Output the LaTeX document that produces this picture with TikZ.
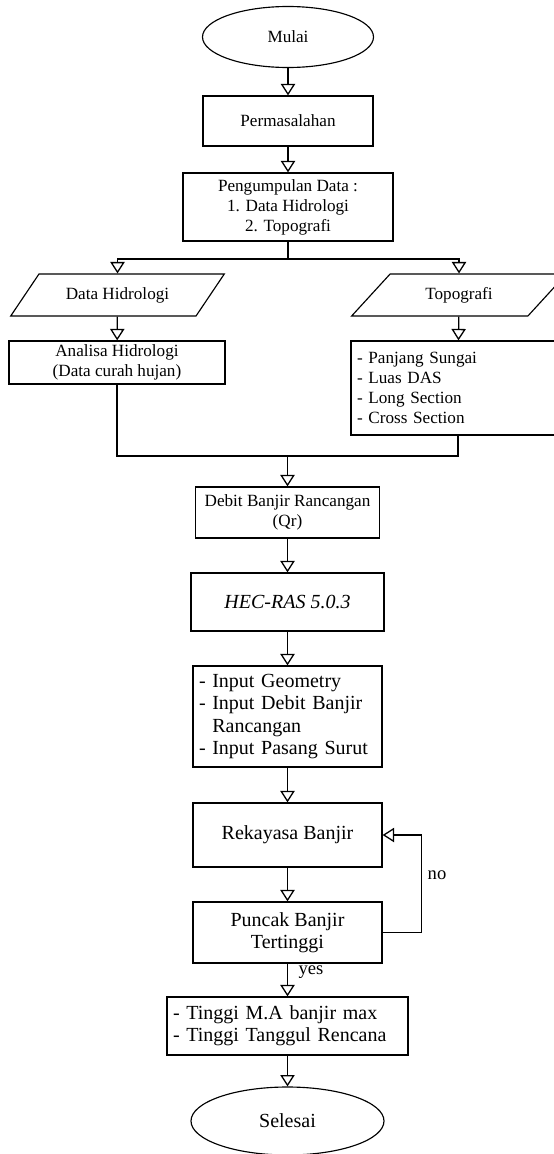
\documentclass[tikz,border=0pt]{standalone}
\usepackage{fontspec}
\setmainfont{Liberation Serif}
\usetikzlibrary{shapes.geometric,arrows.meta}

\begin{document}
\begin{tikzpicture}[x=0.7pt,y=-0.7pt]
	\tikzset{every node/.style={font=\fontsize{12}{14}\selectfont,inner sep=0pt}}
	\tikzset{sz/.style 2 args={minimum width=#1*0.7pt,minimum height=#2*0.7pt}}
	\tikzset{besar/.style={font=\fontsize{14}{15.5}\selectfont}}
	\tikzset{terminal/.style={draw,ellipse,line width=0.8pt}}
	\tikzset{proses/.style={draw,rectangle,line width=0.9pt,align=center}}
	\tikzset{daftar/.style={draw,rectangle,line width=0.9pt,align=left,inner xsep=4.2pt,text width=#1*0.7pt-8.4pt}}
	\tikzset{masukan/.style={draw,trapezium,trapezium left angle=40,trapezium right angle=140,trapezium stretches=true,line width=0.8pt}}
	\tikzset{panah/.style={line width=0.9pt,-{Triangle[open,width=10pt,length=8pt]}}}
	\tikzset{garis/.style={line width=0.9pt}}
	\clip (0,0) rectangle (554,1154);
	% alur utama
	\node[terminal,sz={171}{61}] (mulai) at (288,37) {Mulai};
	\node[proses,sz={170}{50}] (masalah) at (288,121) {Permasalahan};
	\node[proses,sz={210}{68}] (kumpul) at (288,207) {Pengumpulan Data :\\1. Data Hidrologi\\2. Topografi};
	% cabang kiri dan kanan
	\node[masukan,sz={215}{42}] (hidro) at (117.5,295) {Data Hidrologi};
	\node[masukan,sz={215}{42}] (topo) at (459,295) {Topografi};
	\node[proses,sz={216}{43}] (analisa) at (117,362.5) {Analisa Hidrologi\\(Data curah hujan)};
	\node[daftar=214,sz={214}{94}] (rincian) at (458,388) {- Panjang Sungai\\- Luas DAS\\- Long Section\\- Cross Section};
	\coordinate (cabang) at (288,259);
	\coordinate (gabung) at (287.5,456);
	% simulasi
	\node[proses,sz={184}{51}] (debit) at (287.5,512.5) {Debit Banjir Rancangan\\(Qr)};
	\node[proses,besar,sz={193}{58}] (hecras) at (287.5,602) {\itshape HEC-RAS 5.0.3};
	\node[daftar=189,besar,sz={189}{101}] (input) at (287.5,716.5) {- Input Geometry\\- Input Debit Banjir\\\phantom{- }Rancangan\\- Input Pasang Surut};
	\node[proses,besar,sz={189}{64}] (rekayasa) at (287.5,835) {Rekayasa Banjir};
	\node[proses,besar,sz={189}{61}] (puncak) at (287.5,932.5) {Puncak Banjir\\Tertinggi};
	\node[daftar=241,besar,sz={241}{58}] (hasil) at (287.5,1026) {- Tinggi M.A banjir max\\- Tinggi Tanggul Rencana};
	\node[terminal,besar,sz={193}{68}] (selesai) at (287.5,1121) {Selesai};
	\node[font=\fontsize{13}{14}\selectfont] (tidak) at (437,875) {no};
	\node[font=\fontsize{13}{14}\selectfont] (ya) at (311,972) {yes};
	% penghubung
	\draw[panah] (mulai) -- (masalah);
	\draw[panah] (masalah) -- (kumpul);
	\draw[garis] (kumpul) -- (cabang);
	\draw[panah] (cabang) -| (hidro.north);
	\draw[panah] (cabang) -| (topo.north);
	\draw[panah] (hidro) -- (analisa);
	\draw[panah] (topo) -- (rincian);
	\draw[garis] (analisa.south) |- (gabung);
	\draw[garis] (rincian.south) |- (gabung);
	\draw[panah] (gabung) -- (debit);
	\draw[panah] (debit) -- (hecras);
	\draw[panah] (hecras) -- (input);
	\draw[panah] (input) -- (rekayasa);
	\draw[panah] (rekayasa) -- (puncak);
	\draw[panah] (puncak.east) -- ++(39,0) |- (rekayasa.east);
	\draw[panah] (puncak) -- (hasil);
	\draw[panah] (hasil) -- (selesai);
\end{tikzpicture}
\end{document}
